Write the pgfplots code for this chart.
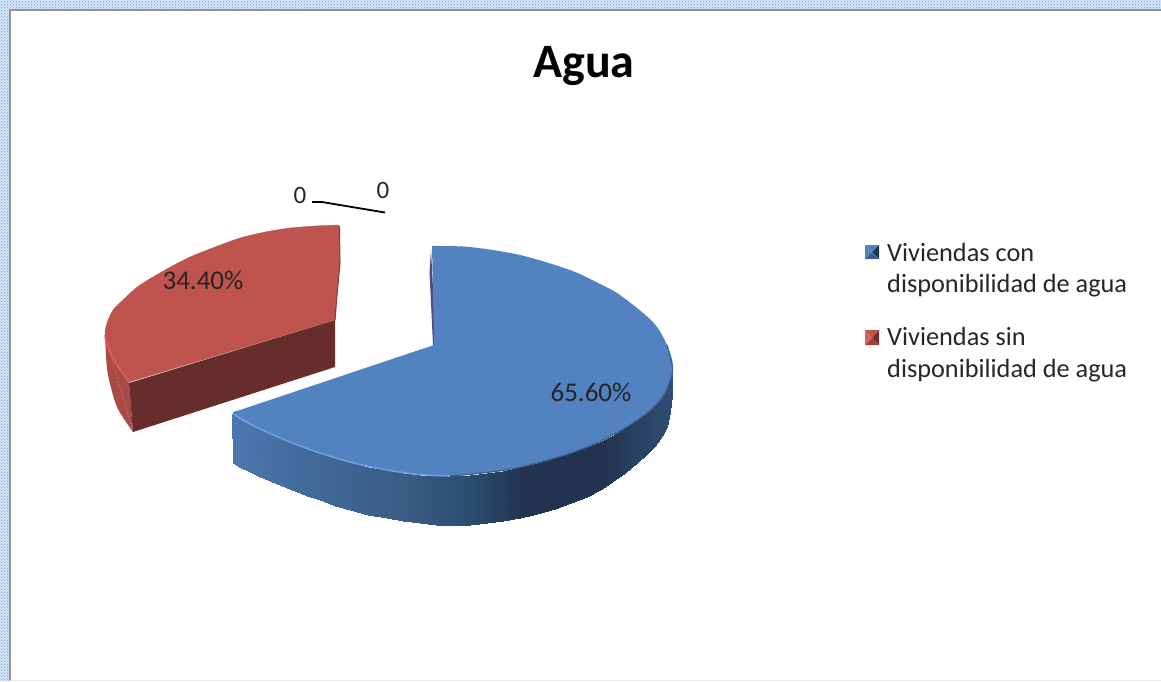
\documentclass[border=0pt]{standalone}
\usepackage{fontspec}
\setmainfont{Carlito}
\usepackage{pgfplots}
\pgfplotsset{compat=1.18}
\usetikzlibrary{patterns}
\definecolor{bluetop}{HTML}{5282BF}
\definecolor{redtop}{HTML}{BF544F}
\definecolor{redcut}{HTML}{672D2B}
\definecolor{redside}{HTML}{A94A46}
\definecolor{redhi}{HTML}{D9625C}
\definecolor{bluehi}{HTML}{6C9EE2}
\definecolor{frame}{HTML}{6FA3EA}
\definecolor{framebg}{HTML}{D6E6FA}
\begin{document}
\begin{tikzpicture}
\begin{axis}[
  scale only axis, width=1161pt, height=681pt,
  xmin=0, xmax=1161, ymin=0, ymax=681, y dir=reverse,
  axis lines=none, clip=true,
  colormap={rim}{[1pt] rgb255(0pt)=(76,120,175) rgb255(70pt)=(66,107,156) rgb255(160pt)=(60,94,136) rgb255(230pt)=(46,80,118) rgb255(290pt)=(34,52,79) rgb255(370pt)=(34,52,79) rgb255(440pt)=(48,78,116)},
  point meta min=232, point meta max=672,
]
% frame
\addplot[draw=none, fill=framebg, forget plot] coordinates {(0,0)(1161,0)(1161,9)(9,9)(9,681)(0,681)} --cycle;
\addplot[draw=none, pattern=crosshatch dots, pattern color=frame, forget plot] coordinates {(0,0)(1161,0)(1161,9)(9,9)(9,681)(0,681)} --cycle;
\addplot[draw=gray!85, line width=2pt, forget plot] coordinates {(10,681)(10,10)(1161,10)};
\addplot[draw=black!8, line width=1.5pt, forget plot] coordinates {(10,680.5)(1161,680.5)};
% red slice
\addplot[smooth, draw=none, fill=redside, forget plot] coordinates {(105,335)(106,355)(108,375)(117,407)(133,432)} --cycle;
\addplot[draw=none, fill=redside, forget plot] coordinates {(105,335)(133,432)(129,382)} --cycle;
\addplot[draw=none, fill=redcut, forget plot] coordinates {(129,383)(335,320)(335,367)(133,432)} --cycle;
\addplot[smooth, draw=redtop, line width=0.3pt, fill=redtop, forget plot] coordinates {(339,225)(315,226)(290,228)(265,232)(240,238)(215,247)(190,257)(165,270)(140,285)(125,298)(113,310)(107,323)(105,333)(107,343)(115,360)(129,382)} --cycle;
\addplot[draw=redtop, line width=0.3pt, fill=redtop, forget plot] coordinates {(129,382)(335,320)(337,295)(340,263)(339,225)} --cycle;
\addplot[draw=black!30!redtop, line width=1pt, forget plot] coordinates {(339.5,226)(340,263)(337,295)(335,320)};
\addplot[smooth, draw=redhi, line width=1.6pt, forget plot] coordinates {(105,335)(107,345)(115,362)(129,382)};
% blue rim
\addplot[patch, patch type=rectangle, shader=interp, point meta=x, forget plot] coordinates {
(232,414)(241,419.5)(241,467.5)(233,463)
(241,419.5)(250,424)(250,472)(241,467.5)
(250,424)(260,429)(260,477)(250,472)
(260,429)(270,433.5)(270,481)(260,477)
(270,433.5)(282,439)(282,486)(270,481)
(282,439)(295,444)(295,491)(282,486)
(295,444)(307,449)(307,496)(295,491)
(307,449)(320,453)(320,500)(307,496)
(320,453)(335,458)(335,505.5)(320,500)
(335,458)(350,462)(350,510)(335,505.5)
(350,462)(368,466.5)(368,514.5)(350,510)
(368,466.5)(387,470)(387,518)(368,514.5)
(387,470)(403,472.5)(403,520.5)(387,518)
(403,472.5)(420,474.5)(420,523)(403,520.5)
(420,474.5)(436,475.5)(436,524.5)(420,523)
(436,475.5)(453,476)(453,525)(436,524.5)
(453,476)(470,475)(470,524.5)(453,525)
(470,475)(487,473)(487,523)(470,524.5)
(487,473)(503,470.5)(503,521)(487,523)
(503,470.5)(520,467)(520,518)(503,521)
(520,467)(537,463)(537,513.5)(520,518)
(537,463)(555,458)(555,508.5)(537,513.5)
(555,458)(571,453)(571,503)(555,508.5)
(571,453)(587,447)(587,496.5)(571,503)
(587,447)(600,441.5)(600,489.5)(587,496.5)
(600,441.5)(612,435.5)(612,481.5)(600,489.5)
(612,435.5)(625,428)(625,472.5)(612,481.5)
(625,428)(637,420)(637,463)(625,472.5)
(637,420)(647,413)(647,454)(637,463)
(647,413)(655,405.5)(655,445.5)(647,454)
(655,405.5)(662,398)(662,436)(655,445.5)
(662,398)(667,390)(667,427)(662,436)
(667,390)(670,381)(670,412)(667,427)
(670,381)(672,370)(672,395)(670,412)
};
% dark sliver at the inner face
\addplot[draw=none, fill=black!70!blue!70, forget plot] coordinates {(431,250)(429.5,272)(433,345)(436,345)} --cycle;
% blue top
\addplot[smooth, draw=none, fill=bluetop, forget plot] coordinates {(432,246)(470,247)(520,255)(570,270)(600,284)(620,295)(653,322)(667,345)(673,365)(670,381)(662,398)(647,413)(625,428)(600,441.5)(571,453)(537,463)(503,470.5)(470,475)(453,476)} --cycle;
\addplot[smooth, draw=none, fill=bluetop, forget plot] coordinates {(453,476)(420,474.5)(387,470)(350,462)(320,453)(295,444)(270,433.5)(250,424)(233,414)} --cycle;
\addplot[draw=none, fill=bluetop, forget plot] coordinates {(432,246)(520,257)(620,299)(663,350)(663,380)(600,437)(520,463)(453,476)(350,458)(270,430)(233,414)(233,412)(240,410)(434,345)} --cycle;
\addplot[smooth, draw=bluehi, line width=1.6pt, forget plot] coordinates {(234,414)(250,424)(270,433.5)(295,444)(320,453)(350,462)(387,470)(420,474.5)(450,476)};
\addplot[smooth, draw=black!25!bluetop, line width=1.2pt, forget plot] coordinates {(450,476)(503,470.5)(537,463)(571,453)(600,441.5)(625,428)(647,413)(662,398)(670,381)(672.5,368)(667,345)};
% leader
\addplot[draw=black, line width=1.8pt, forget plot] coordinates {(312,202)(322,202)(385,212.5)};
% legend marks
\addplot[draw=none, fill=bluetop, forget plot] coordinates {(865,245)(879,245)(872,252)} --cycle;
\addplot[draw=none, fill=bluetop, forget plot] coordinates {(865,245)(865,259)(872,252)} --cycle;
\addplot[draw=none, fill=black!60!bluetop, forget plot] coordinates {(879,245)(879,259)(872,252)} --cycle;
\addplot[draw=none, fill=black!25!bluetop, forget plot] coordinates {(865,259)(879,259)(872,252)} --cycle;
\addplot[draw=none, fill=redtop, forget plot] coordinates {(865,330)(879,330)(872,338)} --cycle;
\addplot[draw=none, fill=redhi, forget plot] coordinates {(865,330)(865,345)(872,338)} --cycle;
\addplot[draw=none, fill=black!40!redtop, forget plot] coordinates {(879,330)(879,345)(872,338)} --cycle;
\addplot[draw=none, fill=black!20!redtop, forget plot] coordinates {(865,345)(879,345)(872,338)} --cycle;
% text
\node[anchor=base, font=\fontsize{48}{48}\selectfont\bfseries, inner sep=0pt] at (axis cs:584,77) {Agua};
\node[anchor=base, font=\fontsize{27}{27}\selectfont, inner sep=0pt, text=black!85] at (axis cs:203,289) {34.40\%};
\node[anchor=base, font=\fontsize{27}{27}\selectfont, inner sep=0pt, text=black!85] at (axis cs:591,401) {65.60\%};
\node[anchor=base, font=\fontsize{25}{25}\selectfont, inner sep=0pt, text=black!85] at (axis cs:300,203) {0};
\node[anchor=base, font=\fontsize{25}{25}\selectfont, inner sep=0pt, text=black!85] at (axis cs:383,198) {0};
\node[anchor=base west, font=\fontsize{26.3}{26}\selectfont, inner sep=0pt, text=black!85] at (axis cs:887,261) {Viviendas con};
\node[anchor=base west, font=\fontsize{26.3}{26}\selectfont, inner sep=0pt, text=black!85] at (axis cs:887,292) {disponibilidad de agua};
\node[anchor=base west, font=\fontsize{26.3}{26}\selectfont, inner sep=0pt, text=black!85] at (axis cs:887,345) {Viviendas sin};
\node[anchor=base west, font=\fontsize{26.3}{26}\selectfont, inner sep=0pt, text=black!85] at (axis cs:887,377) {disponibilidad de agua};
\end{axis}
\end{tikzpicture}
\end{document}
